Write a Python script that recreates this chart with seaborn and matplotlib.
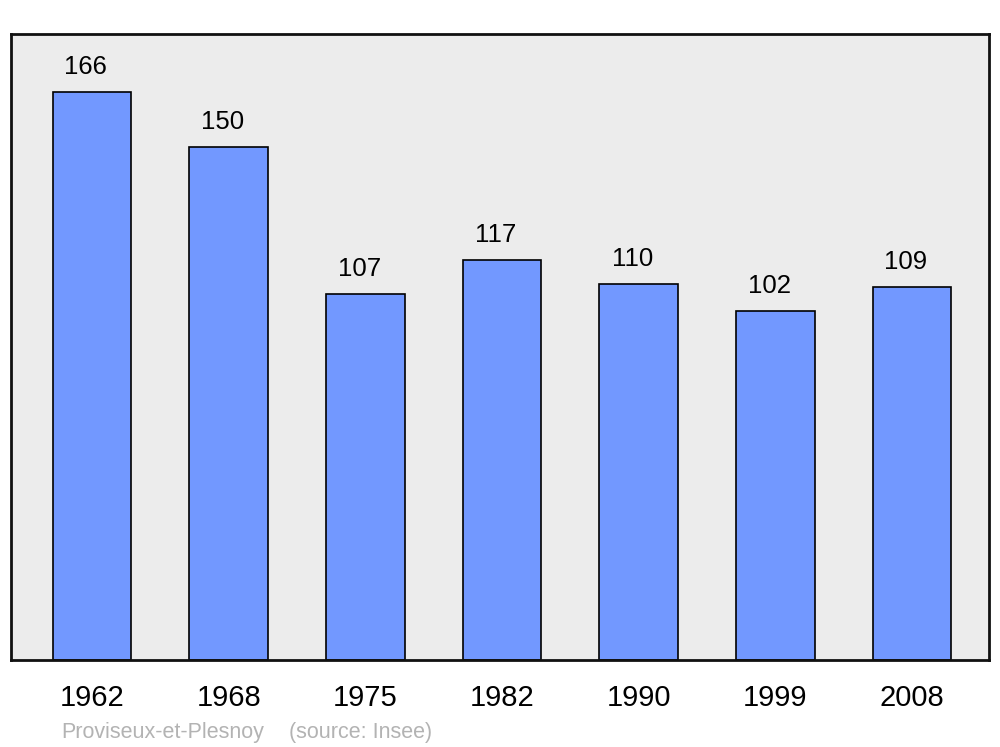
import pandas as pd
import matplotlib
matplotlib.use("Agg")
import matplotlib.pyplot as plt
import seaborn as sns

# Data
years = ["1962", "1968", "1975", "1982", "1990", "1999", "2008"]
population = [166, 150, 107, 117, 110, 102, 109]
commune = "Proviseux-et-Plesnoy"
source = "(source: Insee)"

df = pd.DataFrame({"year": years, "pop": population})

sns.set_style("white")
plt.rcParams["font.family"] = ["Liberation Sans", "DejaVu Sans"]

fig = plt.figure(figsize=(10, 7.47), dpi=100)
ax = fig.add_axes([0.011, 0.1165, 0.978, 0.838])
ax.set_facecolor("#ececec")

sns.barplot(data=df, x="year", y="pop", color="#7298ff", saturation=1,
            width=0.575, edgecolor="black", linewidth=1.2, ax=ax)

for i, v in enumerate(population):
    ax.annotate(str(v), (i, v), xytext=(-4.5, 13), textcoords="offset points",
                ha="center", va="baseline", fontsize=18.5, color="black")

ax.set_xlim(-0.593, 6.563)
ax.set_ylim(0, 183)
ax.set_yticks([])
ax.set_xlabel("")
ax.set_ylabel("")
ax.tick_params(axis="x", length=0, pad=17, labelsize=21, labelcolor="black")
for s in ax.spines.values():
    s.set_visible(True)
    s.set_linewidth(2)
    s.set_color("#111111")

fig.text(0.061, 0.012, commune, fontsize=15.5, color="#b3b3b3")
fig.text(0.289, 0.012, source, fontsize=15.5, color="#b3b3b3")

fig.savefig("out.png", dpi=100, facecolor="white")
